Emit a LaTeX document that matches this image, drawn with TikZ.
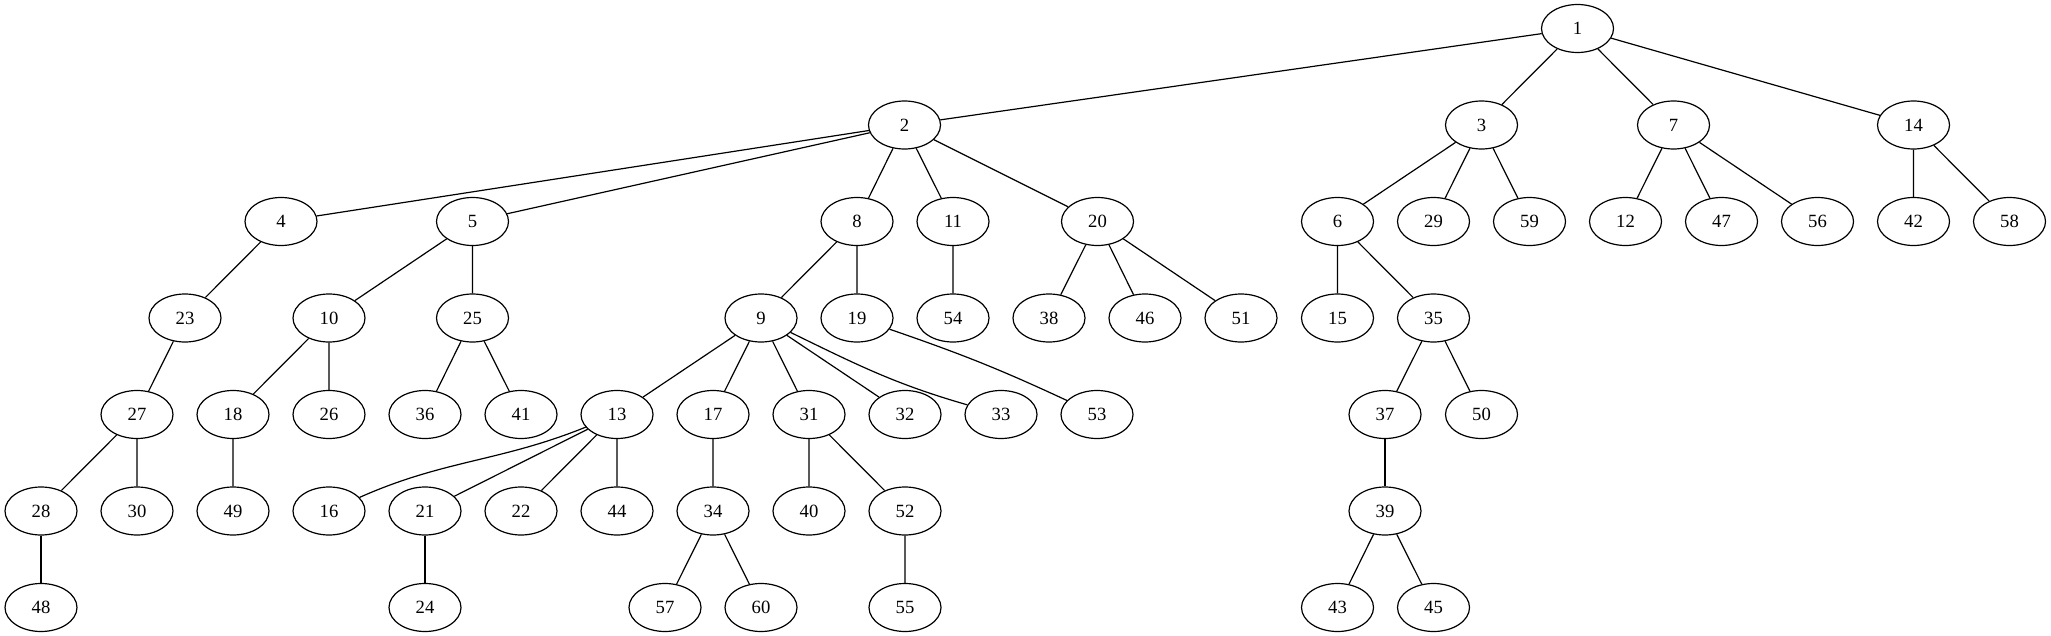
\documentclass[tikz,border=0pt]{standalone}
\usepackage{fontspec}
\setmainfont{Liberation Serif}
\usetikzlibrary{shapes.geometric}

\begin{document}
\begin{tikzpicture}[x=0.75pt,y=-0.75pt]
    \tikzset{vertex/.style={draw,ellipse,line width=0.9pt,minimum width=54pt,minimum height=36pt,inner sep=0pt,font=\fontsize{14pt}{16pt}\selectfont},
             link/.style={line width=0.9pt}}
    \useasboundingbox (0,0) rectangle (2051,635);

    \node[vertex] (n1) at (1577.5,28.5) {1};
    %
    \node[vertex] (n2) at (904.5,125) {2};
    \node[vertex] (n3) at (1481.5,125) {3};
    \node[vertex] (n7) at (1673.5,125) {7};
    \node[vertex] (n14) at (1913.5,125) {14};
    %
    \node[vertex] (n4) at (281,221.5) {4};
    \node[vertex] (n5) at (472.5,221.5) {5};
    \node[vertex] (n8) at (857,221.5) {8};
    \node[vertex] (n11) at (953,221.5) {11};
    \node[vertex] (n20) at (1097.5,221.5) {20};
    \node[vertex] (n6) at (1337.5,221.5) {6};
    \node[vertex] (n29) at (1433.5,221.5) {29};
    \node[vertex] (n59) at (1529.5,221.5) {59};
    \node[vertex] (n12) at (1625.5,221.5) {12};
    \node[vertex] (n47) at (1721.5,221.5) {47};
    \node[vertex] (n56) at (1817.5,221.5) {56};
    \node[vertex] (n42) at (1913.5,221.5) {42};
    \node[vertex] (n58) at (2009.5,221.5) {58};
    %
    \node[vertex] (n23) at (185,318) {23};
    \node[vertex] (n10) at (329,318) {10};
    \node[vertex] (n25) at (472.5,318) {25};
    \node[vertex] (n9) at (761,318) {9};
    \node[vertex] (n19) at (857,318) {19};
    \node[vertex] (n54) at (953,318) {54};
    \node[vertex] (n38) at (1049,318) {38};
    \node[vertex] (n46) at (1145,318) {46};
    \node[vertex] (n51) at (1241,318) {51};
    \node[vertex] (n15) at (1337.5,318) {15};
    \node[vertex] (n35) at (1433.5,318) {35};
    %
    \node[vertex] (n27) at (137,414.5) {27};
    \node[vertex] (n18) at (233,414.5) {18};
    \node[vertex] (n26) at (329,414.5) {26};
    \node[vertex] (n36) at (425,414.5) {36};
    \node[vertex] (n41) at (521,414.5) {41};
    \node[vertex] (n13) at (617,414.5) {13};
    \node[vertex] (n17) at (713,414.5) {17};
    \node[vertex] (n31) at (809,414.5) {31};
    \node[vertex] (n32) at (905,414.5) {32};
    \node[vertex] (n33) at (1001,414.5) {33};
    \node[vertex] (n53) at (1097,414.5) {53};
    \node[vertex] (n37) at (1385,414.5) {37};
    \node[vertex] (n50) at (1481.5,414.5) {50};
    %
    \node[vertex] (n28) at (41,511) {28};
    \node[vertex] (n30) at (137,511) {30};
    \node[vertex] (n49) at (233,511) {49};
    \node[vertex] (n16) at (329,511) {16};
    \node[vertex] (n21) at (425,511) {21};
    \node[vertex] (n22) at (521,511) {22};
    \node[vertex] (n44) at (617,511) {44};
    \node[vertex] (n34) at (713,511) {34};
    \node[vertex] (n40) at (809,511) {40};
    \node[vertex] (n52) at (905,511) {52};
    \node[vertex] (n39) at (1385,511) {39};
    %
    \node[vertex] (n48) at (41,607.5) {48};
    \node[vertex] (n24) at (425,607.5) {24};
    \node[vertex] (n57) at (665,607.5) {57};
    \node[vertex] (n60) at (761,607.5) {60};
    \node[vertex] (n55) at (905,607.5) {55};
    \node[vertex] (n43) at (1337.5,607.5) {43};
    \node[vertex] (n45) at (1433.5,607.5) {45};

    \draw[link] (n1) -- (n2) (n1) -- (n3) (n1) -- (n7) (n1) -- (n14);
    \draw[link] (n2) -- (n4) (n2) -- (n5) (n2) -- (n8) (n2) -- (n11) (n2) -- (n20);
    \draw[link] (n3) -- (n6) (n3) -- (n29) (n3) -- (n59);
    \draw[link] (n7) -- (n12) (n7) -- (n47) (n7) -- (n56);
    \draw[link] (n14) -- (n42) (n14) -- (n58);
    \draw[link] (n4) -- (n23) (n5) -- (n10) (n5) -- (n25);
    \draw[link] (n8) -- (n9) (n8) -- (n19) (n11) -- (n54);
    \draw[link] (n20) -- (n38) (n20) -- (n46) (n20) -- (n51);
    \draw[link] (n6) -- (n15) (n6) -- (n35);
    \draw[link] (n23) -- (n27) (n10) -- (n18) (n10) -- (n26);
    \draw[link] (n25) -- (n36) (n25) -- (n41);
    \draw[link] (n9) -- (n13) (n9) -- (n17) (n9) -- (n31) (n9) -- (n32);
    \draw[link] (n9) to[out=-26,in=164] (n33);
    \draw[link] (n19) to[out=-19,in=155] (n53);
    \draw[link] (n35) -- (n37) (n35) -- (n50);
    \draw[link] (n27) -- (n28) (n27) -- (n30) (n18) -- (n49);
    \draw[link] (n13) to[out=202,in=24] (n16);
    \draw[link] (n13) -- (n21) (n13) -- (n22) (n13) -- (n44);
    \draw[link] (n17) -- (n34) (n31) -- (n40) (n31) -- (n52);
    \draw[link] (n37) -- (n39);
    \draw[link] (n28) -- (n48) (n21) -- (n24);
    \draw[link] (n34) -- (n57) (n34) -- (n60) (n52) -- (n55);
    \draw[link] (n39) -- (n43) (n39) -- (n45);
\end{tikzpicture}
\end{document}
